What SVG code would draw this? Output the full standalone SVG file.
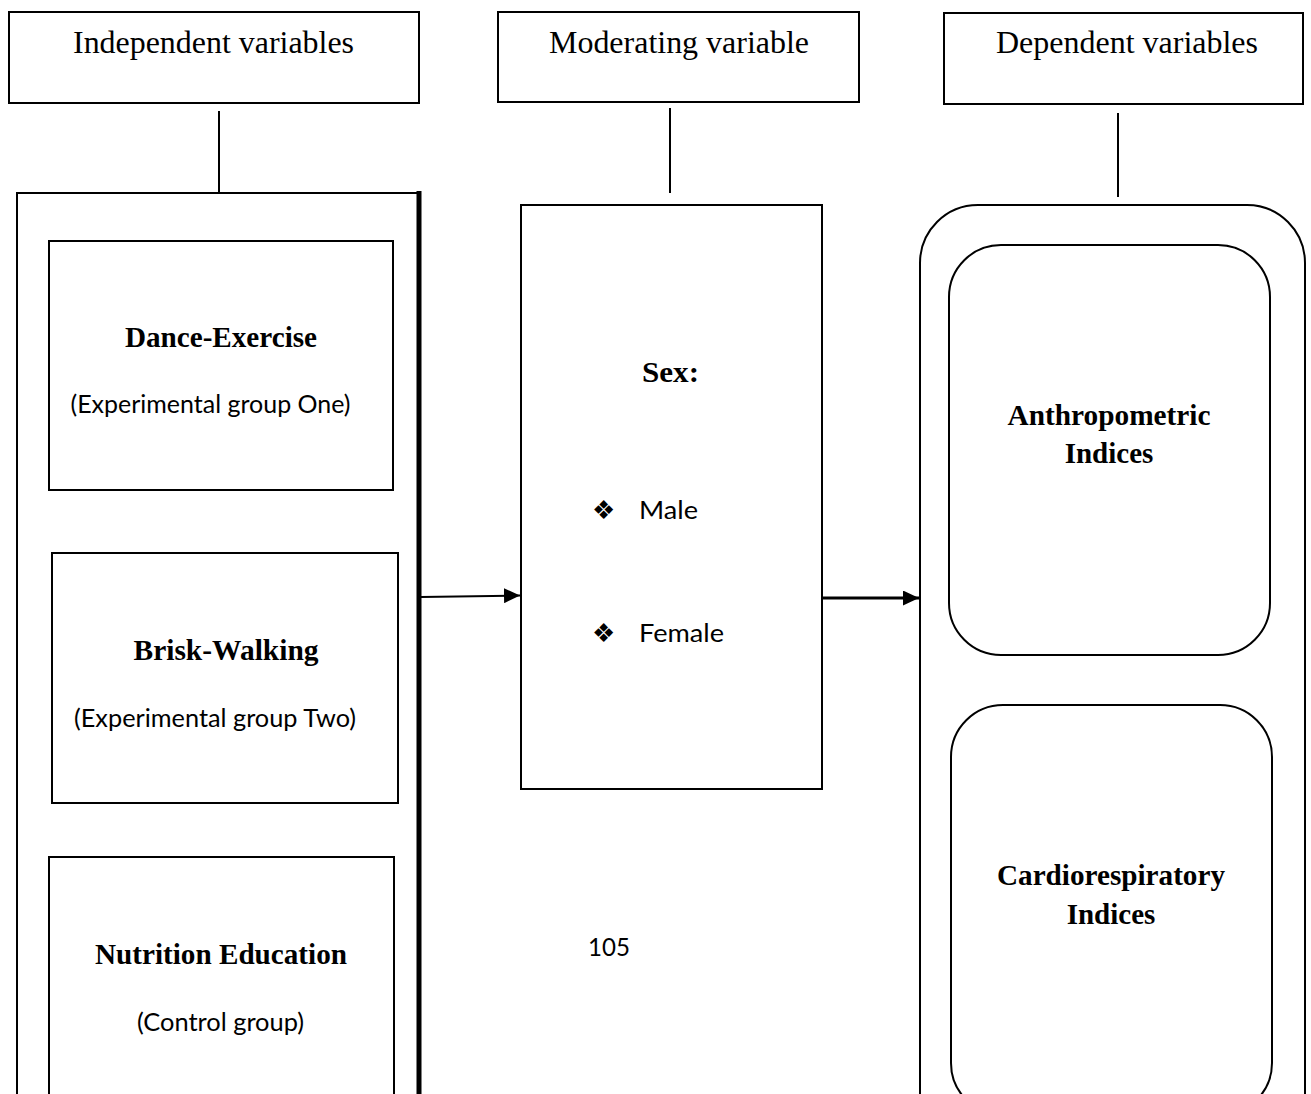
<svg xmlns="http://www.w3.org/2000/svg" width="1311" height="1094" viewBox="0 0 1311 1094">
<style>
.box{fill:#fff;stroke:#000;stroke-width:2}
.hdr{font-family:"Liberation Serif","Times New Roman",serif;font-size:32px;fill:#000;text-anchor:middle}
.bt{font-family:"Liberation Serif","Times New Roman",serif;font-weight:bold;font-size:29px;fill:#000;text-anchor:middle}
.st{font-family:Lato,"Open Sans",sans-serif;font-size:25px;fill:#000}
.bul{font-family:"DejaVu Sans",sans-serif;font-size:26px;fill:#000}
.ln{stroke:#000;stroke-width:2;fill:none}
</style>
<defs>
<marker id="ah" markerWidth="16" markerHeight="15" refX="16" refY="7.5" orient="auto" markerUnits="userSpaceOnUse" viewBox="0 0 16 15">
<path d="M0,0 L16,7.5 L0,15 Z" fill="#000"/>
</marker>
</defs>
<rect width="1311" height="1094" fill="#fff"/>

<g id="independent-header">
<rect class="box" x="9" y="12" width="410" height="91"/>
<text class="hdr" x="213.5" y="53" textLength="281" lengthAdjust="spacingAndGlyphs">Independent variables</text>
</g>
<g id="moderating-header">
<rect class="box" x="498" y="12" width="361" height="90"/>
<text class="hdr" x="679" y="53" textLength="260" lengthAdjust="spacingAndGlyphs">Moderating variable</text>
</g>
<g id="dependent-header">
<rect class="box" x="944" y="13" width="359" height="91"/>
<text class="hdr" x="1127" y="53" textLength="262" lengthAdjust="spacingAndGlyphs">Dependent variables</text>
</g>

<g id="independent-container">
<rect class="box" x="17" y="193" width="402" height="1000"/>
<line x1="419" y1="191" x2="419" y2="1094" stroke="#000" stroke-width="5"/>
</g>
<g id="dance-exercise">
<rect class="box" x="49" y="241" width="344" height="249"/>
<text class="bt" x="221" y="347" textLength="192" lengthAdjust="spacingAndGlyphs">Dance-Exercise</text>
<text class="st" x="70.5" y="413" textLength="280" lengthAdjust="spacingAndGlyphs">(Experimental group One)</text>
</g>
<g id="brisk-walking">
<rect class="box" x="52" y="553" width="346" height="250"/>
<text class="bt" x="226" y="660" textLength="185" lengthAdjust="spacingAndGlyphs">Brisk-Walking</text>
<text class="st" x="74" y="727" textLength="282" lengthAdjust="spacingAndGlyphs">(Experimental group Two)</text>
</g>
<g id="nutrition-education">
<rect class="box" x="49" y="857" width="345" height="400"/>
<text class="bt" x="221" y="964" textLength="252" lengthAdjust="spacingAndGlyphs">Nutrition Education</text>
<text class="st" x="137" y="1031" textLength="167" lengthAdjust="spacingAndGlyphs">(Control group)</text>
</g>

<g id="sex">
<rect class="box" x="521" y="205" width="301" height="584"/>
<text class="bt" x="670.5" y="382" font-size="31" textLength="57" lengthAdjust="spacingAndGlyphs">Sex:</text>
<text class="bul" x="592" y="519">❖</text>
<text class="st" x="639" y="519" textLength="59" lengthAdjust="spacingAndGlyphs">Male</text>
<text class="bul" x="592" y="642">❖</text>
<text class="st" x="639" y="642" textLength="85" lengthAdjust="spacingAndGlyphs">Female</text>
</g>

<g id="dependent-container">
<rect class="box" x="920" y="205" width="385" height="1000" rx="58" ry="58"/>
</g>
<g id="anthropometric">
<rect class="box" x="949" y="245" width="321" height="410" rx="52" ry="52"/>
<text class="bt" x="1109" y="425" font-size="28" textLength="203" lengthAdjust="spacingAndGlyphs">Anthropometric</text>
<text class="bt" x="1109" y="463" font-size="28">Indices</text>
</g>
<g id="cardiorespiratory">
<rect class="box" x="951" y="705" width="321" height="410" rx="52" ry="52"/>
<text class="bt" x="1111" y="885" font-size="28" textLength="228" lengthAdjust="spacingAndGlyphs">Cardiorespiratory</text>
<text class="bt" x="1111" y="924" font-size="28">Indices</text>
</g>

<g id="page-number">
<text class="st" x="588" y="956" font-size="26" textLength="42" lengthAdjust="spacingAndGlyphs">105</text>
</g>

<g id="connectors">
<line class="ln" x1="219" y1="111" x2="219" y2="193"/>
<line class="ln" x1="670" y1="108" x2="670" y2="193"/>
<line class="ln" x1="1118" y1="113" x2="1118" y2="197"/>
<line x1="421" y1="597" x2="520" y2="595.5" stroke="#000" stroke-width="2" marker-end="url(#ah)"/>
<line x1="822" y1="598" x2="919" y2="598" stroke="#000" stroke-width="3" marker-end="url(#ah)"/>
</g>
</svg>
